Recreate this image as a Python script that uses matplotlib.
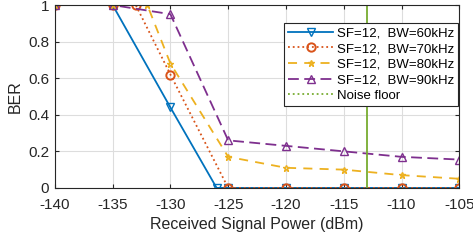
import matplotlib.pyplot as plt
from matplotlib.lines import Line2D

plt.rcParams['font.family'] = ['Liberation Sans', 'DejaVu Sans']
plt.rcParams['axes.unicode_minus'] = False

# received power (dBm) and BER per bandwidth
x_60 = [-140, -135, -130, -126, -125, -120, -115, -110, -105]
ber_60 = [1, 1, 0.44, 0, 0, 0, 0, 0, 0]

x_70 = [-140, -135, -133, -130, -125, -120, -115, -110, -105]
ber_70 = [1, 1, 1, 0.62, 0, 0, 0, 0, 0]

x_80 = [-140, -135, -132, -130, -125, -120, -115, -110, -105]
ber_80 = [1, 1, 1, 0.68, 0.17, 0.11, 0.10, 0.07, 0.05]

x_90 = [-140, -135, -130, -125, -120, -115, -110, -105]
ber_90 = [1, 1, 0.95, 0.26, 0.23, 0.20, 0.17, 0.155]

noise_floor = -113

labels = ['SF=12,  BW=60kHz', 'SF=12,  BW=70kHz',
          'SF=12,  BW=80kHz', 'SF=12,  BW=90kHz', 'Noise floor']

c_blue = '#0072BD'
c_orange = '#D95319'
c_yellow = '#EDB120'
c_purple = '#7E2F8E'
c_green = '#77AC30'

fig = plt.figure(figsize=(4.73, 2.40), dpi=100)
ax = fig.add_axes([0.116, 0.217, 0.855, 0.762])

l1, = ax.plot(x_60, ber_60, '-', color=c_blue, marker='v', mfc='none',
              ms=6, lw=1.3, label=labels[0])
l2, = ax.plot(x_70, ber_70, ':', color=c_orange, marker='o', mfc='none',
              ms=6, lw=1.3, mew=1.4, label=labels[1])
l3, = ax.plot(x_80, ber_80, '--', color=c_yellow, marker='*', mfc='none',
              ms=5, lw=1.3, dashes=(5, 4), label=labels[2])
l4, = ax.plot(x_90, ber_90, '--', color=c_purple, marker='^', mfc='none',
              ms=6, lw=1.3, dashes=(6, 3), label=labels[3])
ax.axvline(noise_floor, color=c_green, lw=1.3)
l5 = Line2D([], [], color=c_green, ls=':', lw=1.3)

ax.set_xlim(-140, -105)
ax.set_ylim(0, 1)
ax.set_xticks(range(-140, -104, 5))
ax.set_yticks([0, 0.2, 0.4, 0.6, 0.8, 1])
ax.set_yticklabels(['0', '0.2', '0.4', '0.6', '0.8', '1'])
ax.grid(True, color='#dddddd', lw=0.8)
ax.set_axisbelow(True)
ax.tick_params(direction='in', labelsize=11, top=True, right=True,
               length=3, colors='#262626')
ax.tick_params(axis='x', pad=7)
ax.tick_params(axis='y', pad=4)
for s in ax.spines.values():
    s.set_color('#262626')
    s.set_linewidth(0.8)

ax.set_xlabel('Received Signal Power (dBm)', fontsize=11.5, color='#262626',
              labelpad=4)
ax.set_ylabel('BER', fontsize=11.5, color='#262626', labelpad=4)

leg = ax.legend([l1, l2, l3, l4, l5], labels, loc='upper right',
                bbox_to_anchor=(0.998, 0.9), fontsize=9.5, frameon=True,
                fancybox=False, edgecolor='#262626', framealpha=1,
                handlelength=3.4, handletextpad=0.3, borderpad=0.3,
                labelspacing=0.25, borderaxespad=0)
leg.get_frame().set_linewidth(0.8)

fig.savefig('out.png', dpi=100)
